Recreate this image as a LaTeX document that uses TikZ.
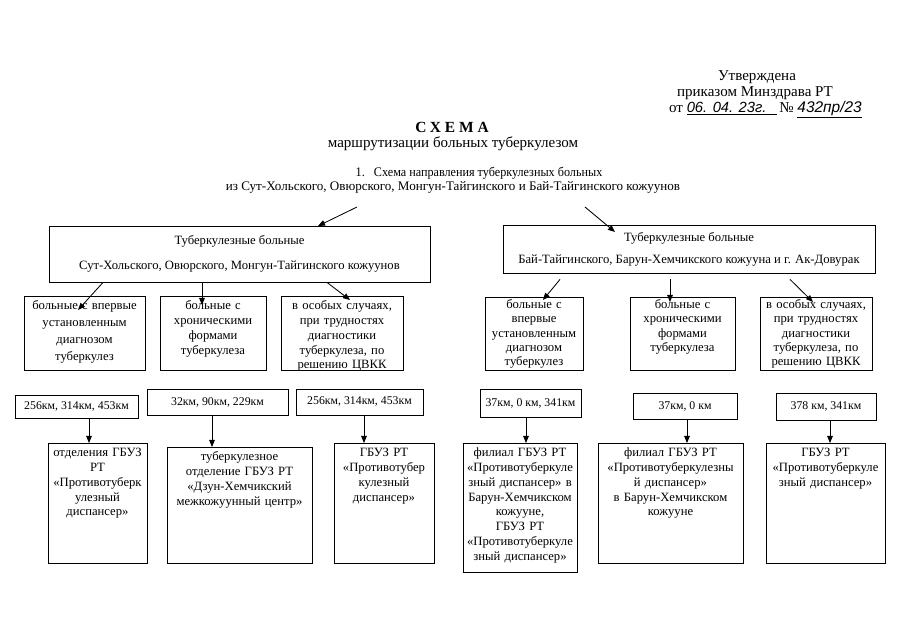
\documentclass[tikz,border=0pt]{standalone}
\usepackage{fontspec}
\setmainfont{Liberation Serif}
\newfontfamily\hand{Liberation Sans}
\usetikzlibrary{arrows.meta,calc}

\begin{document}
\begin{tikzpicture}[x=0.025cm,y=-0.025cm,>={Triangle[length=5pt,width=4pt]},
 line width=0.6pt,font=\fontsize{9}{10.5}\selectfont,
 grp/.style 2 args={draw,align=center,minimum width=#1,minimum height=#2,inner sep=1pt},
 km/.style 2 args={draw,minimum width=#1,minimum height=#2,inner sep=1pt,font=\fontsize{8.4}{10}\selectfont},
 tbox/.style 2 args={draw,anchor=north,align=center,inner xsep=0pt,inner ysep=2.5pt,
   text height=7pt,text width=#1,text depth=#2},
 tight/.style={text height=5.5pt,font=\fontsize{9}{10.1}\selectfont},
 hdr/.style={font=\fontsize{10.7}{12}\selectfont}]
\useasboundingbox (0,0) rectangle (904,636);
% heading
\node[hdr] (appr) at (757,77) {Утверждена};
\node[hdr] (order) at (755,93) {приказом Минздрава РТ};
\node[hdr,anchor=west] (date) at (664,110) {от \underline{\makebox[2.25cm][l]{\hand\itshape\fontsize{10.5}{12}\selectfont 06. 04. 23г.}}\,№
 \underline{\hand\itshape\fontsize{11}{12}\selectfont 432пр/23}};
\node[font=\fontsize{11}{12}\selectfont\bfseries\addfontfeature{LetterSpace=25}] (ttl) at (452,127) {СХЕМА};
\node[hdr] (sub) at (453,144) {маршрутизации больных туберкулезом};
\node[font=\fontsize{9.3}{11}\selectfont\addfontfeature{FakeStretch=0.93}] (sec) at (479,173) {1.\hspace{0.7em}Схема направления туберкулезных больных};
\node[font=\fontsize{9.3}{11}\selectfont] (sec2) at (453,187) {из Сут-Хольского, Овюрского, Монгун-Тайгинского и Бай-Тайгинского кожуунов};
% the two groups
\node[grp={9.525cm}{1.4cm}] (grpL) at (239.5,254) {Туберкулезные больные\\[7pt]Сут-Хольского, Овюрского, Монгун-Тайгинского кожуунов};
\node[grp={9.3cm}{1.2cm}] (grpR) at (689,249) {Туберкулезные больные\\[5pt]Бай-Тайгинского, Барун-Хемчикского кожууна и г. Ак-Довурак};
\coordinate (inL) at (357,207); \coordinate (toL) at (318,226);
\coordinate (inR) at (585,207); \coordinate (toR) at (615,232);
\draw[->] (inL) -- (toL);
\draw[->] (inR) -- (toR);
% kinds of patients
\node[tbox={3.025cm}{1.43cm}] (a1) at (84.5,296) {больные с впервые\\[1.5pt]установленным\\[1.5pt]диагнозом\\[1.5pt]туберкулез};
\node[tbox={2.65cm}{1.43cm}] (a2) at (213,296) {больные с\\хроническими\\формами\\туберкулеза};
\node[tbox={3.05cm}{1.43cm}] (a3) at (342,296) {в особых случаях,\\при трудностях\\диагностики\\туберкулеза, по\\решению ЦВКК};
\node[tbox={2.45cm}{1.45cm},tight] (b1) at (534,297) {больные с\\впервые\\установленным\\диагнозом\\туберкулез};
\node[tbox={2.625cm}{1.45cm},tight] (b2) at (682.5,297) {больные с\\хроническими\\формами\\туберкулеза};
\node[tbox={2.8cm}{1.45cm},tight] (b3) at (816,297) {в особых случаях,\\при трудностях\\диагностики\\туберкулеза, по\\решению ЦВКК};
\draw[->] (grpL.south -| 103,0) -- ($(a1.north -| 78,0)+(0,14)$);
\draw[->] (grpL.south -| 202,0) -- ($(a2.north -| 202,0)+(0,9)$);
\draw[->] (grpL.south -| 327,0) -- ($(a3.north -| 350,0)+(0,4)$);
\draw[->] ($(grpR.south -| 560,0)+(0,6)$) -- ($(b1.north -| 543,0)+(0,3)$);
\draw[->] ($(grpR.south -| 670,0)+(0,6)$) -- ($(b2.north -| 670,0)+(0,5)$);
\draw[->] ($(grpR.south -| 790,0)+(0,6)$) -- ($(b3.north -| 813,0)+(0,5)$);
% distances
\node[km={3.075cm}{0.575cm}] (k1) at (76.5,406.5) {256км, 314км, 453км};
\node[km={3.525cm}{0.65cm}] (k2) at (217.5,402) {32км, 90км, 229км};
\node[km={3.175cm}{0.65cm}] (k3) at (359.5,402) {256км, 314км, 453км};
\node[km={2.525cm}{0.7cm}] (m1) at (530.5,403) {37км, 0 км, 341км};
\node[km={2.6cm}{0.65cm}] (m2) at (685,406) {37км, 0 км};
\node[km={2.5cm}{0.675cm}] (m3) at (826,406.5) {378 км, 341км};
% where they are sent
\node[tbox={2.475cm}{2.58cm}] (f1) at (97.5,443) {отделения ГБУЗ\\РТ\\«Противотуберк\\улезный\\диспансер»};
\node[tbox={3.625cm}{2.48cm}] (f2) at (239.5,447) {туберкулезное\\отделение ГБУЗ РТ\\«Дзун-Хемчикский\\межкожуунный центр»};
\node[tbox={2.5cm}{2.58cm}] (f3) at (384,443) {ГБУЗ РТ\\«Противотубер\\кулезный\\диспансер»};
\node[tbox={2.85cm}{2.8cm}] (g1) at (520,443) {филиал ГБУЗ РТ\\«Противотуберкуле\\зный диспансер» в\\Барун-Хемчикском\\кожууне,\\ГБУЗ РТ\\«Противотуберкуле\\зный диспансер»};
\node[tbox={3.625cm}{2.58cm}] (g2) at (670.5,443) {филиал ГБУЗ РТ\\«Противотуберкулезны\\й диспансер»\\в Барун-Хемчикском\\кожууне};
\node[tbox={2.975cm}{2.58cm}] (g3) at (825.5,443) {ГБУЗ РТ\\«Противотуберкуле\\зный диспансер»};
\draw[->] (k1.south -| 89,0) -- (f1.north -| 89,0);
\draw[->] (k2.south -| 212,0) -- (f2.north -| 212,0);
\draw[->] (k3.south -| 364,0) -- (f3.north -| 364,0);
\draw[->] (m1.south -| 526,0) -- (g1.north -| 526,0);
\draw[->] (m2.south -| 687,0) -- (g2.north -| 687,0);
\draw[->] (m3.south -| 830,0) -- (g3.north -| 830,0);
\end{tikzpicture}
\end{document}
